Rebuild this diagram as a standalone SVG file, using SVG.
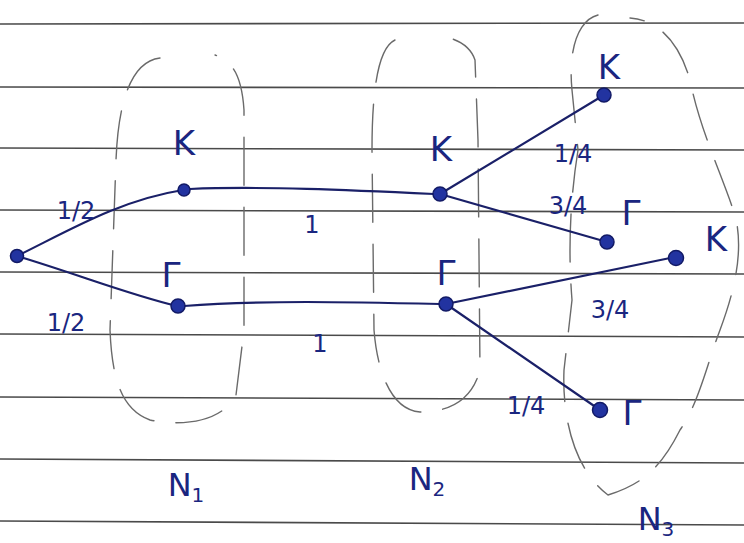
<svg xmlns="http://www.w3.org/2000/svg" width="744" height="543" viewBox="0 0 744 543">
<style>
.paper{stroke:#4a4a4a;stroke-width:1.6;fill:none}
.grp{stroke:#6a6a6a;stroke-width:1.4;fill:none;stroke-dasharray:48 22;stroke-linecap:round}
.edge{stroke:#1a2068;stroke-width:2.2;fill:none;stroke-linecap:round}
.node{fill:#2233a0;stroke:#121a66;stroke-width:1.5}
.lbl{font-family:"DejaVu Sans","Liberation Sans",sans-serif;fill:#1a2680}
.st{font-size:34px}
.fr{font-size:24px}
.nl{font-size:32px}
</style>
<rect width="744" height="543" fill="#ffffff"/>
<g id="paper">
<path class="paper" d="M0 24 L744 23"/>
<path class="paper" d="M0 87 L744 88"/>
<path class="paper" d="M0 148 L744 150"/>
<path class="paper" d="M0 210 L744 212"/>
<path class="paper" d="M0 272 L744 274"/>
<path class="paper" d="M0 334 L744 337"/>
<path class="paper" d="M0 397 L744 400"/>
<path class="paper" d="M0 459 L744 463"/>
<path class="paper" d="M0 521 L744 525"/>
</g>
<g id="groups">
<path id="g-N1" class="grp" d="M160 58 C128 62 118 110 116 160 L110 330 C112 380 122 410 150 420 C190 428 225 418 236 395 L244 330 L244 110 C242 80 235 62 215 55"/>
<path id="g-N2" class="grp" d="M395 40 C378 48 372 90 372 150 L374 330 C378 380 395 410 420 412 C450 412 472 400 480 370 L478 140 L475 60 C470 45 455 38 440 36"/>
<path id="g-N3" class="grp" d="M598 15 C578 20 568 50 572 90 L578 150 C570 200 568 250 572 300 L564 370 C562 420 575 470 608 495 C640 485 660 470 680 430 C700 400 705 370 720 330 C735 290 744 250 735 215 C720 170 700 130 690 80 C680 45 660 20 630 18"/>
</g>
<g id="connectors">
<path class="edge" d="M17 256 C70 230 120 200 183 190"/>
<path class="edge" d="M17 256 C80 275 130 295 177 306"/>
<path class="edge" d="M190 189 C260 186 350 190 434 194"/>
<path class="edge" d="M184 306 C260 300 350 302 440 304"/>
<path class="edge" d="M440 194 L604 95"/>
<path class="edge" d="M440 194 L607 242"/>
<path class="edge" d="M446 304 L675 257"/>
<path class="edge" d="M446 304 L600 410"/>
</g>
<g id="n-root"><circle class="node" cx="17" cy="256" r="6.5"/></g>
<g id="n-K1"><circle class="node" cx="184" cy="190" r="6"/><text class="lbl st" x="184" y="155" text-anchor="middle">K</text></g>
<g id="n-G1"><circle class="node" cx="178" cy="306" r="7"/><text class="lbl st" x="171" y="287" text-anchor="middle">Γ</text></g>
<g id="n-K2"><circle class="node" cx="440" cy="194" r="7"/><text class="lbl st" x="441" y="161" text-anchor="middle">K</text></g>
<g id="n-G2"><circle class="node" cx="446" cy="304" r="7"/><text class="lbl st" x="446" y="285" text-anchor="middle">Γ</text></g>
<g id="n-K3a"><circle class="node" cx="604" cy="95" r="7"/><text class="lbl st" x="609" y="79" text-anchor="middle">K</text></g>
<g id="n-G3a"><circle class="node" cx="607" cy="242" r="7"/><text class="lbl st" x="631" y="225" text-anchor="middle">Γ</text></g>
<g id="n-K3b"><circle class="node" cx="676" cy="258" r="7.5"/><text class="lbl st" x="716" y="251" text-anchor="middle">K</text></g>
<g id="n-G3b"><circle class="node" cx="600" cy="410" r="7.5"/><text class="lbl st" x="632" y="425" text-anchor="middle">Γ</text></g>
<g id="edge-labels">
<text class="lbl fr" x="76" y="219" text-anchor="middle">1/2</text>
<text class="lbl fr" x="66" y="331" text-anchor="middle">1/2</text>
<text class="lbl fr" x="312" y="233" text-anchor="middle">1</text>
<text class="lbl fr" x="320" y="352" text-anchor="middle">1</text>
<text class="lbl fr" x="573" y="162" text-anchor="middle">1/4</text>
<text class="lbl fr" x="568" y="214" text-anchor="middle">3/4</text>
<text class="lbl fr" x="610" y="318" text-anchor="middle">3/4</text>
<text class="lbl fr" x="526" y="414" text-anchor="middle">1/4</text>
</g>
<g id="set-labels">
<text class="lbl nl" x="186" y="496" text-anchor="middle">N<tspan font-size="20" dy="6">1</tspan></text>
<text class="lbl nl" x="427" y="490" text-anchor="middle">N<tspan font-size="20" dy="6">2</tspan></text>
<text class="lbl nl" x="656" y="530" text-anchor="middle">N<tspan font-size="20" dy="6">3</tspan></text>
</g>
</svg>
